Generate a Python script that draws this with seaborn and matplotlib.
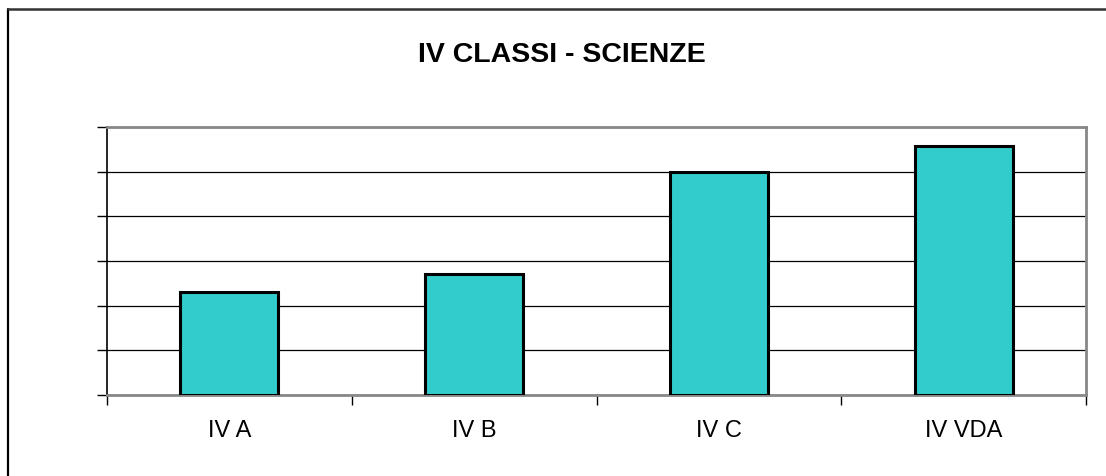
import matplotlib
matplotlib.use("Agg")
import matplotlib.pyplot as plt
import seaborn as sns
import pandas as pd
from matplotlib.lines import Line2D
from matplotlib.ticker import MultipleLocator, FixedLocator, NullFormatter

categories = ["IV A", "IV B", "IV C", "IV VDA"]
values = [2.3, 2.72, 5.0, 5.57]

sns.set_style("white")
plt.rcParams['font.family'] = ['Liberation Sans', 'DejaVu Sans']
plt.rcParams['text.color'] = 'black'
plt.rcParams['xtick.labelcolor'] = 'black'

W, H = 1106, 477
fig = plt.figure(figsize=(W / 100, H / 100), dpi=100)
ax = fig.add_axes([107 / W, 1 - 396 / H, (1086 - 107) / W, (396 - 128) / H])

df = pd.DataFrame({"cat": categories, "val": values})
sns.barplot(data=df, x="cat", y="val", ax=ax, color="#33CCCC", saturation=1,
            width=0.4, edgecolor="black", linewidth=2.2, zorder=3)

ax.set_xlim(-0.5, 3.5)
ax.set_ylim(0, 6)
ax.yaxis.set_major_locator(MultipleLocator(1))
ax.yaxis.set_major_formatter(NullFormatter())
ax.grid(axis="y", color="black", linewidth=0.9, zorder=0)
ax.set_axisbelow(True)
ax.set_xlabel("")
ax.set_ylabel("")

for s in ["top", "right"]:
    ax.spines[s].set_color("#888888")
    ax.spines[s].set_linewidth(2)
    ax.spines[s].set_visible(True)
ax.spines["bottom"].set_color("#888888")
ax.spines["bottom"].set_linewidth(2)
ax.spines["left"].set_color("black")
ax.spines["left"].set_linewidth(1.2)

ax.tick_params(axis="y", left=True, length=7, width=1, color="black")
ax.xaxis.set_major_locator(FixedLocator([0, 1, 2, 3]))
ax.set_xticks([-0.5, 0.5, 1.5, 2.5, 3.5], minor=True)
ax.tick_params(axis="x", which="major", bottom=False, length=0, labelsize=17,
               pad=17, labelcolor="black")
ax.tick_params(axis="x", which="minor", bottom=True, length=7, width=1, color="black")

fig.text(561.5 / W, 1 - 55 / H, "IV CLASSI - SCIENZE", ha="center", va="center",
         fontsize=20.5, fontweight="bold", color="black")

# figure border (left and top only, as in reference)
fig.add_artist(Line2D([7.5 / W, 7.5 / W], [0, 1 - 9.5 / H], transform=fig.transFigure,
                      color="black", linewidth=1.6))
fig.add_artist(Line2D([7.5 / W, 1], [1 - 9.5 / H, 1 - 9.5 / H], transform=fig.transFigure,
                      color="#333333", linewidth=1.8))

fig.savefig("out.png", dpi=100)
